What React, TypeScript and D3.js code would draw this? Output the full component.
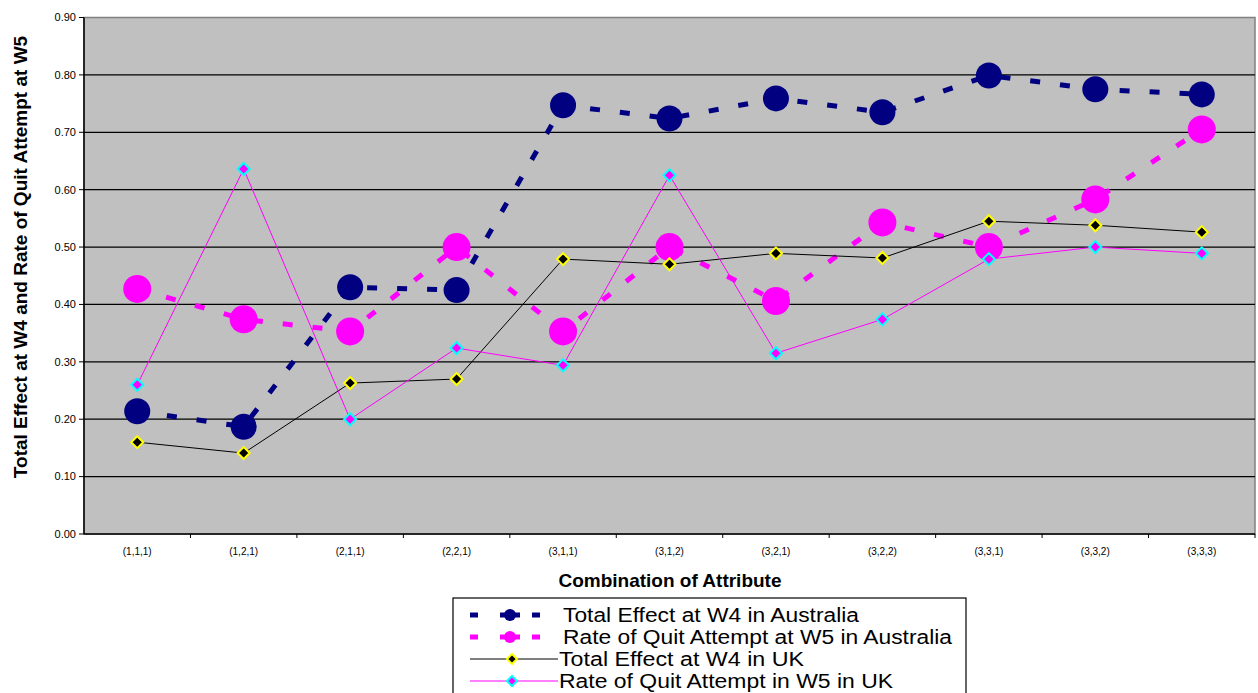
import React from 'react';
import * as d3 from 'd3';

const categories = ['(1,1,1)', '(1,2,1)', '(2,1,1)', '(2,2,1)', '(3,1,1)', '(3,1,2)', '(3,2,1)', '(3,2,2)', '(3,3,1)', '(3,3,2)', '(3,3,3)'];
const totalEffectAus = [0.214, 0.187, 0.430, 0.425, 0.747, 0.724, 0.759, 0.735, 0.799, 0.775, 0.766];
const quitRateAus = [0.427, 0.374, 0.353, 0.500, 0.353, 0.500, 0.406, 0.543, 0.500, 0.583, 0.705];
const totalEffectUK = [0.160, 0.141, 0.263, 0.270, 0.479, 0.470, 0.489, 0.481, 0.545, 0.538, 0.526];
const quitRateUK = [0.260, 0.636, 0.200, 0.324, 0.294, 0.625, 0.315, 0.374, 0.479, 0.500, 0.489];
const yTicks = [0, 0.1, 0.2, 0.3, 0.4, 0.5, 0.6, 0.7, 0.8, 0.9];

const W = 1258, H = 693;
const plot = { left: 84, right: 1255, top: 17.5, bottom: 534 };
const FONT = 'Arial, "Liberation Sans", sans-serif';

const series = [
  { name: 'Total Effect at W4 in Australia', values: totalEffectAus, line: '#000080', dash: '10,20', width: 5, marker: 'circle', fill: '#000080', stroke: 'none', r: 13, textW: 296 },
  { name: 'Rate of Quit Attempt at W5 in Australia', values: quitRateAus, line: '#ff00ff', dash: '10,20', width: 5, marker: 'circle', fill: '#ff00ff', stroke: 'none', r: 14, textW: 389 },
  { name: 'Total Effect at W4 in UK', values: totalEffectUK, line: '#000000', dash: null, width: 1, marker: 'diamond', fill: '#000000', stroke: '#ffff00', r: 6, textW: 245 },
  { name: 'Rate of Quit Attempt in W5 in UK', values: quitRateUK, line: '#ff00ff', dash: null, width: 1, marker: 'diamond', fill: '#ff00ff', stroke: '#00ffff', r: 6, textW: 334 },
];

function Marker({ s, x, y }: any) {
  if (s.marker === 'circle') return <circle cx={x} cy={y} r={s.r} fill={s.fill} />;
  const r = s.r;
  return <path d={`M${x},${y - r}L${x + r},${y}L${x},${y + r}L${x - r},${y}Z`} fill={s.fill} stroke={s.stroke} strokeWidth={2} />;
}

export default function App() {
  const x = d3.scaleBand().domain(categories).range([plot.left, plot.right]);
  const y = d3.scaleLinear().domain([0, 0.9]).range([plot.bottom, plot.top]);
  const cx = (c: string) => (x(c) as number) + x.bandwidth() / 2;
  const line = d3.line<number>().x((d, i) => cx(categories[i])).y(d => y(d));

  const legendX = 453, legendY = 598;

  return (
    <div style={{ position: 'absolute', left: 0, top: 0 }}>
      <svg width={W} height={H} style={{ display: 'block', fontFamily: FONT }}>
        <rect x={0} y={0} width={W} height={H} fill="#fff" />
        <rect x={plot.left} y={plot.top} width={plot.right - plot.left} height={plot.bottom - plot.top} fill="#c0c0c0" stroke="#808080" strokeWidth={1.5} />
        {yTicks.slice(1, -1).map(t => (
          <line key={t} x1={plot.left} x2={plot.right} y1={y(t)} y2={y(t)} stroke="#000" strokeWidth={1.2} />
        ))}
        {/* axes */}
        <line x1={plot.left} x2={plot.left} y1={plot.top} y2={plot.bottom} stroke="#000" strokeWidth={1.5} />
        <line x1={plot.left} x2={plot.right} y1={plot.bottom} y2={plot.bottom} stroke="#000" strokeWidth={1.5} />
        {yTicks.map(t => (
          <g key={t}>
            <line x1={plot.left - 5} x2={plot.left} y1={y(t)} y2={y(t)} stroke="#000" />
            <text x={plot.left - 8} y={y(t)} dy="0.35em" textAnchor="end" fontSize={11}>{t.toFixed(2)}</text>
          </g>
        ))}
        {categories.map(c => (
          <g key={c}>
            <line x1={(x(c) as number) + x.bandwidth()} x2={(x(c) as number) + x.bandwidth()} y1={plot.bottom} y2={plot.bottom + 4} stroke="#000" />
            <text x={cx(c)} y={plot.bottom + 21} textAnchor="middle" fontSize={10}>{c}</text>
          </g>
        ))}
        <text x={670} y={587} textAnchor="middle" fontSize={19} fontWeight="bold">Combination of Attribute</text>
        <text transform="translate(27, 257) rotate(-90)" textAnchor="middle" fontSize={19} fontWeight="bold">Total Effect at W4 and Rate of Quit Attempt at W5</text>

        {series.map(s => (
          <g key={s.name}>
            <path d={line(s.values) as string} fill="none" stroke={s.line} strokeWidth={s.width} strokeDasharray={s.dash || undefined} />
            {s.values.map((v, i) => <Marker key={i} s={s} x={cx(categories[i])} y={y(v)} />)}
          </g>
        ))}

        {/* legend */}
        <rect x={legendX} y={legendY} width={513} height={120} fill="#fff" stroke="#000" strokeWidth={1.2} />
        {series.map((s, i) => {
          const ly = legendY + 17 + i * 22;
          return (
            <g key={s.name}>
              {s.dash ? (
                <>
                  <line x1={470} x2={478} y1={ly} y2={ly} stroke={s.line} strokeWidth={5} />
                  <line x1={500} x2={520} y1={ly} y2={ly} stroke={s.line} strokeWidth={5} />
                  <line x1={532} x2={540} y1={ly} y2={ly} stroke={s.line} strokeWidth={5} />
                  <circle cx={510} cy={ly} r={6} fill={s.fill} />
                </>
              ) : (
                <>
                  <line x1={470} x2={558} y1={ly} y2={ly} stroke={s.line} strokeWidth={1.2} />
                  <Marker s={{ ...s, r: 5 }} x={512} y={ly} />
                </>
              )}
              <text x={s.dash ? 563 : 559} y={ly} dy="0.35em" fontSize={20} textLength={s.textW} lengthAdjust="spacingAndGlyphs">{s.name}</text>
            </g>
          );
        })}
      </svg>
    </div>
  );
}
